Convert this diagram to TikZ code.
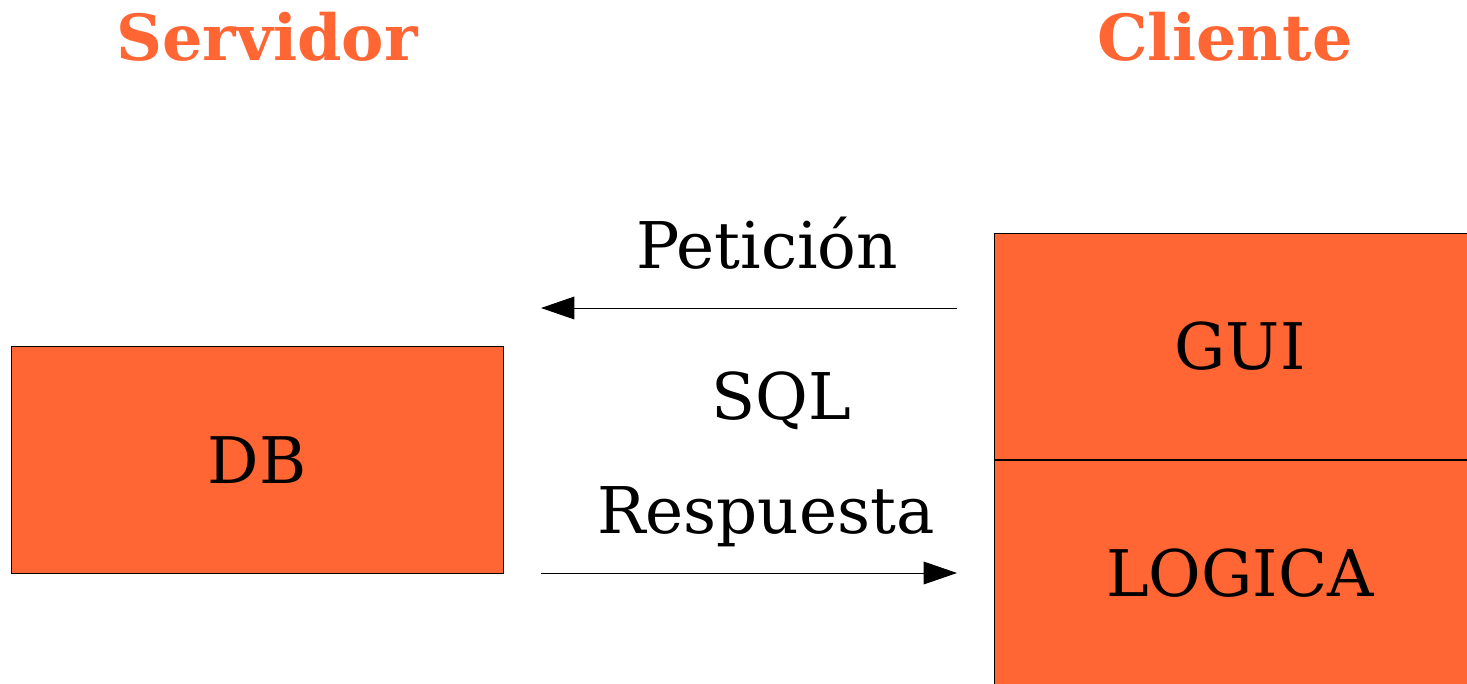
\documentclass[tikz,border=0pt]{standalone}
\usepackage{fontspec}
\setmainfont{DejaVu Serif}
\usetikzlibrary{arrows.meta}
\definecolor{box-orange}{RGB}{255,102,51}

\tikzset{
  layer/.style={draw=black, line width=0.6pt, fill=box-orange, inner sep=0pt,
    minimum width=369pt, minimum height=170pt, font=\fontsize{48.2}{58}\selectfont},
  side/.style={anchor=base, inner sep=0pt, text=box-orange,
    font=\fontsize{47.7}{57}\selectfont\bfseries},
  msg/.style={anchor=base, inner sep=0pt, font=\fontsize{48.3}{58}\selectfont},
  flow/.style={line width=0.75pt, -{Triangle[length=25pt, width=17pt]}}
}

\begin{document}
\begin{tikzpicture}[x=0.75pt, y=-0.75pt]
        % Picture frame
        \useasboundingbox (0, 0) rectangle (1467, 683);
        \clip (0, 0) rectangle (1467, 683);
        % Side titles
        \node[side] (servidor) at (267, 60) {Servidor};
        \node[side] (cliente) at (1225, 60) {Cliente};
        % DB box
        \node[layer] (db) at (257, 460) {DB};
        % GUI box
        \node[layer] (gui) at (1240, 346.5) {GUI};
        % LOGICA box
        \node[layer] (logica) at (1240, 573.5) {LOGICA};
        % Arrow ends
        \coordinate (pet-start) at (957, 308);
        \coordinate (pet-end) at (541, 308);
        \coordinate (resp-start) at (541, 573);
        \coordinate (resp-end) at (957, 573);
        % Request arrow
        \draw [flow] (pet-start) -- (pet-end);
        % Answer arrow
        \draw [flow] (resp-start) -- (resp-end);
        % Arrow labels
        \node[msg] (peticion) at (767, 268) {Petición};
        \node[msg] (sql) at (781, 419) {SQL};
        \node[msg] (respuesta) at (766, 533) {Respuesta};
\end{tikzpicture}
\end{document}
